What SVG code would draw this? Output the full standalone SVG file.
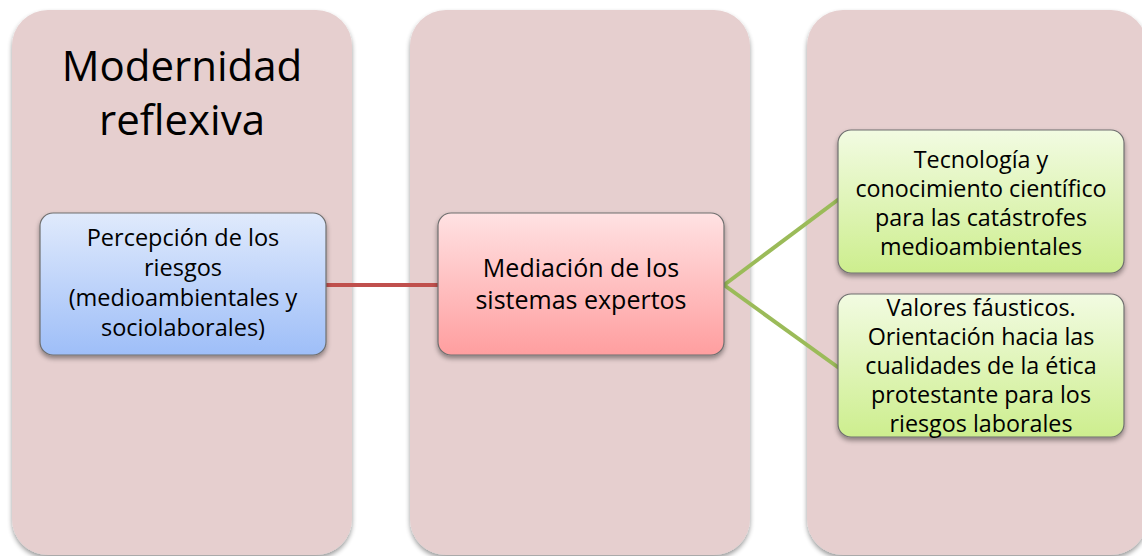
<svg xmlns="http://www.w3.org/2000/svg" width="1142" height="556" viewBox="0 0 1142 556">
<defs>
<linearGradient id="gBlue" x1="0" y1="0" x2="0" y2="1"><stop offset="0" stop-color="#e0eafc"/><stop offset="1" stop-color="#9ebef8"/></linearGradient>
<linearGradient id="gRed" x1="0" y1="0" x2="0" y2="1"><stop offset="0" stop-color="#ffe2e3"/><stop offset="1" stop-color="#ff9e9f"/></linearGradient>
<linearGradient id="gGreen" x1="0" y1="0" x2="0" y2="1"><stop offset="0" stop-color="#f2fbe2"/><stop offset="1" stop-color="#cdee8e"/></linearGradient>
<filter id="sh" x="-10%" y="-10%" width="120%" height="130%"><feGaussianBlur in="SourceAlpha" stdDeviation="2.5"/><feOffset dx="0" dy="3"/><feComponentTransfer><feFuncA type="linear" slope="0.4"/></feComponentTransfer><feMerge><feMergeNode/><feMergeNode in="SourceGraphic"/></feMerge></filter>
</defs>
<style>
.col{fill:#e6cfcf;filter:url(#sh)}
.box{stroke:#6f6f6f;stroke-width:1.2;filter:url(#sh)}
text{font-family:"Open Sans","Liberation Sans",sans-serif;fill:#000;text-anchor:middle}
.t{font-size:23.5px}
.p{font-size:25px}
.g{font-size:23.3px}
.h{font-size:42px}
.red{stroke:#c0504d;stroke-width:4;fill:none}
.grn{stroke:#9bbb59;stroke-width:4;fill:none}
</style>
<rect width="1142" height="556" fill="#ffffff"/>
<g id="col1"><rect class="col" x="12" y="10" width="340" height="545" rx="36"/>
<text class="h" x="182" y="81">Modernidad</text><text class="h" x="182" y="135">reflexiva</text></g>
<g id="col2"><rect class="col" x="410" y="10" width="340" height="545" rx="36"/></g>
<g id="col3"><rect class="col" x="807" y="10" width="340" height="545" rx="36"/></g>
<g id="connectors">
<line class="red" x1="326" y1="285" x2="438" y2="285"/>
<line class="grn" x1="724" y1="285" x2="839" y2="199"/>
<line class="grn" x1="724" y1="285" x2="839" y2="368"/>
</g>
<g id="n1"><rect class="box" x="40" y="213" width="286" height="142" rx="13" fill="url(#gBlue)"/>
<text class="t" x="183" y="246">Percepción de los</text>
<text class="t" x="183" y="276">riesgos</text>
<text class="t" x="183" y="306">(medioambientales y</text>
<text class="t" x="183" y="336">sociolaborales)</text></g>
<g id="n2"><rect class="box" x="438" y="213" width="286" height="142" rx="13" fill="url(#gRed)"/>
<text class="p" x="581" y="277">Mediación de los</text>
<text class="p" x="581" y="309">sistemas expertos</text></g>
<g id="n3"><rect class="box" x="838" y="130" width="286" height="143" rx="13" fill="url(#gGreen)"/>
<text class="g" x="981" y="168">Tecnología y</text>
<text class="g" x="981" y="197">conocimiento científico</text>
<text class="g" x="981" y="226">para las catástrofes</text>
<text class="g" x="981" y="255">medioambientales</text></g>
<g id="n4"><rect class="box" x="838" y="294" width="286" height="143" rx="13" fill="url(#gGreen)"/>
<text class="g" x="981" y="316">Valores fáusticos.</text>
<text class="g" x="981" y="345">Orientación hacia las</text>
<text class="g" x="981" y="374">cualidades de la ética</text>
<text class="g" x="981" y="403">protestante para los</text>
<text class="g" x="981" y="432">riesgos laborales</text></g>
</svg>
